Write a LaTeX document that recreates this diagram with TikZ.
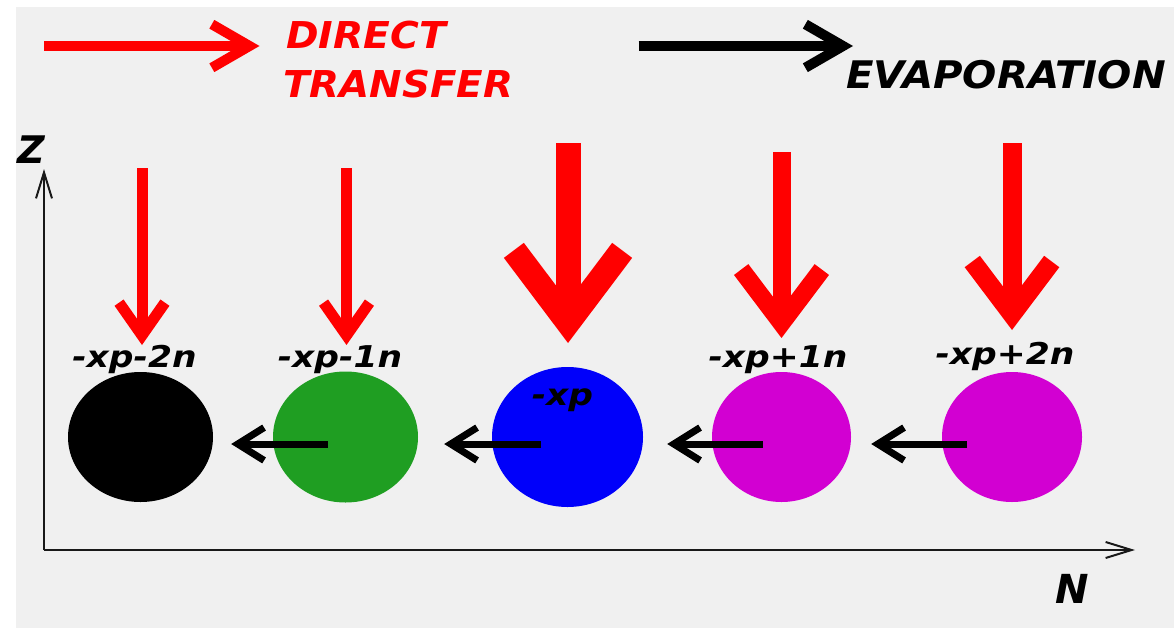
\documentclass[tikz,border=0pt]{standalone}
\usepackage{graphicx}
\usepackage{fontspec}
\setmainfont{DejaVu Sans}[BoldItalicFont={* Bold Oblique}]
\usetikzlibrary{calc,arrows.meta,shapes.geometric}

\definecolor{panel}{HTML}{F0F0F0}
\definecolor{ballgreen}{HTML}{1F9E22}
\definecolor{ballblue}{HTML}{0000FA}
\definecolor{ballmag}{HTML}{D200D2}

% Thick downward arrow: style, top, tip, width, half-angle of head, arm length
\newcommand{\fallarrow}[6]{%
  \pgfmathsetmacro\arrV{#4/2/sin(#5)}%
  \pgfmathsetmacro\arrX{#6*sin(#5)}%
  \pgfmathsetmacro\arrY{\arrV+#6*cos(#5)}%
  \draw[#1,line width=#4pt,line cap=butt] (#2) -- ($(#3)+(0,-\arrV)$);%
  \draw[#1,line width=#4pt,line cap=butt,line join=miter]
    ($(#3)+(-\arrX,-\arrY)$) -- ($(#3)+(0,-\arrV)$) -- ($(#3)+(\arrX,-\arrY)$);%
}
% Thick horizontal arrow: style, start, tip, width, half-angle, arm length, direction (+1 right, -1 left)
\newcommand{\sidearrow}[7]{%
  \pgfmathsetmacro\arrV{-(#7)*#4/2/sin(#5)}%
  \pgfmathsetmacro\arrX{-(#7)*(#4/2/sin(#5)+#6*cos(#5))}%
  \pgfmathsetmacro\arrY{#6*sin(#5)}%
  \draw[#1,line width=#4pt,line cap=butt] (#2) -- ($(#3)+(\arrV,0)$);%
  \draw[#1,line width=#4pt,line cap=butt,line join=miter]
    ($(#3)+(\arrX,-\arrY)$) -- ($(#3)+(\arrV,0)$) -- ($(#3)+(\arrX,\arrY)$);%
}
% wide-set label text
\newcommand{\widetext}[2]{\scalebox{#1}[1]{#2}}

\begin{document}
\begin{tikzpicture}[x=1pt,y=-1pt,
  ball/.style={ellipse,inner sep=0pt,draw=none},
  lbl/.style={font=\fontsize{30}{30}\selectfont\bfseries\itshape,inner sep=0pt,anchor=base},
  big/.style={font=\fontsize{37}{37}\selectfont\bfseries\itshape,inner sep=0pt,anchor=base west},
  axis/.style={line width=2pt,draw=black!90,-{Straight Barb[length=26pt,width=16pt]}},
  flux/.style={draw=red},
  evap/.style={draw=black}]
\useasboundingbox (0,0) rectangle (1175,629);
\fill[white] (0,0) rectangle (1175,629);
\fill[panel] (16,7) rectangle (1174,628);

% axes
\coordinate (o) at (44,550);
\coordinate (zt) at (44,169);
\coordinate (nt) at (1135,550);
\draw[axis] (o) -- (zt);
\draw[axis] (o) -- (nt);
\node[big,font=\fontsize{38}{38}\selectfont\bfseries\itshape] (zl) at (17,163) {Z};
\node[big,font=\fontsize{40}{40}\selectfont\bfseries\itshape] (nl) at (1055,603) {N};

% legend
\coordinate (ds) at (44,46);
\coordinate (dt) at (259.5,46);
\sidearrow{flux}{ds}{dt}{10}{30}{43.5}{1}
\node[big,text=red] (dtx) at (286,48) {\widetext{1.06}{DIRECT}};
\node[big,text=red] (dty) at (283,97) {\widetext{1.05}{TRANSFER}};
\coordinate (es) at (638.5,46);
\coordinate (et) at (853,46);
\sidearrow{evap}{es}{et}{10}{30}{43.5}{1}
\node[big,font=\fontsize{38}{38}\selectfont\bfseries\itshape] (ev) at (846,88) {\widetext{1.06}{EVAPORATION}};

% nuclei
\node[ball,fill=black,minimum width=145pt,minimum height=130pt] (k) at (140.5,437) {};
\node[ball,fill=ballgreen,minimum width=145pt,minimum height=131pt] (g) at (345.5,437) {};
\node[ball,fill=ballblue,minimum width=151pt,minimum height=140pt] (bl) at (567.5,437) {};
\node[ball,fill=ballmag,minimum width=139pt,minimum height=130pt] (m1) at (781.5,437) {};
\node[ball,fill=ballmag,minimum width=140pt,minimum height=130pt] (m2) at (1012,437) {};

% labels
\node[lbl] (lk) at (134.5,367) {\widetext{1.15}{-xp-2n}};
\node[lbl] (lg) at (340,367) {\widetext{1.15}{-xp-1n}};
\node[lbl] (lb) at (562.5,405) {\widetext{1.15}{-xp}};
\node[lbl] (lm1) at (778,367) {\widetext{1.15}{-xp+1n}};
\node[lbl] (lm2) at (1005,364) {\widetext{1.15}{-xp+2n}};

% direct transfer fluxes
\coordinate (f1s) at (142,168);   \coordinate (f1t) at (142,345);
\coordinate (f2s) at (346.5,168); \coordinate (f2t) at (346.5,345);
\coordinate (f3s) at (568,143);   \coordinate (f3t) at (568,343);
\coordinate (f4s) at (781.5,152); \coordinate (f4t) at (781.5,338);
\coordinate (f5s) at (1012,143);  \coordinate (f5t) at (1012,330);
\fallarrow{flux}{f1s}{f1t}{11}{35}{40}
\fallarrow{flux}{f2s}{f2t}{11}{35}{40}
\fallarrow{flux}{f3s}{f3t}{25}{37}{90}
\fallarrow{flux}{f4s}{f4t}{18}{37}{67}
\fallarrow{flux}{f5s}{f5t}{19}{37}{66}

% evaporation steps
\coordinate (e1s) at ($(g.center)+(-17.5,7)$);  \coordinate (e1t) at ($(k.east)+(18,7)$);
\coordinate (e2s) at ($(bl.center)+(-26.5,7)$); \coordinate (e2t) at ($(g.east)+(26,7)$);
\coordinate (e3s) at ($(m1.center)+(-18.5,7)$); \coordinate (e3t) at ($(bl.east)+(24,7)$);
\coordinate (e4s) at ($(m2.center)+(-45,7)$);   \coordinate (e4t) at ($(m1.east)+(20,7)$);
\sidearrow{evap}{e1s}{e1t}{7}{32}{31}{-1}
\sidearrow{evap}{e2s}{e2t}{7}{32}{31}{-1}
\sidearrow{evap}{e3s}{e3t}{7}{32}{31}{-1}
\sidearrow{evap}{e4s}{e4t}{7}{32}{31}{-1}
\end{tikzpicture}
\end{document}
